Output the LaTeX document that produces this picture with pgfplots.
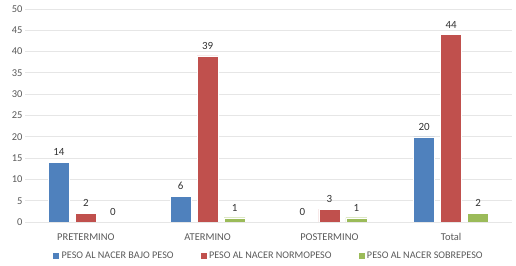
\documentclass[border=0pt]{standalone}
\usepackage{pgfplots}
\pgfplotsset{compat=1.18}
\usepackage{fontspec}
\setmainfont{Carlito}
\definecolor{cblue}{HTML}{4F81BD}
\definecolor{cred}{HTML}{C0504D}
\definecolor{cgreen}{HTML}{9BBB59}
\definecolor{txt}{HTML}{595959}
\definecolor{gridc}{HTML}{E6E6E6}
\begin{document}
\begin{tikzpicture}
\path[use as bounding box] (0,0) rectangle (516bp,266bp);
\begin{axis}[
  at={(25bp,44bp)}, anchor=south west,
  scale only axis, width=487bp, height=213bp,
  ybar=6bp, bar width=21bp,
  xmin=-0.5, xmax=3.5, ymin=0, ymax=50,
  ytick={0,5,...,50},
  xtick={0,1,2,3},
  xticklabels={PRETERMINO,ATERMINO,POSTERMINO,Total},
  axis line style={draw=none},
  major tick length=0pt,
  ymajorgrids, major grid style={draw=gridc, line width=0.8pt},
  ticklabel style={font=\fontsize{10.5}{12}\selectfont, text=txt},
  /pgf/number format/assume math mode=true,
  yticklabel style={xshift=1bp},
  xticklabel style={yshift=-8bp},
  nodes near coords,
  every node near coord/.append style={font=\fontsize{11}{12}\selectfont, text=black!80, yshift=3bp},
  legend columns=3,
  legend style={at={(0.5,-0.16)}, anchor=center, draw=none, fill=none,
    font=\fontsize{10.2}{12}\selectfont, text=txt,
    /tikz/every even column/.append style={column sep=24bp}},
  legend image code/.code={\fill[#1] (0bp,-3.5bp) rectangle (7bp,3.5bp);},
]
\addplot[fill=cblue, draw=white, line width=0.4pt] coordinates {(0,14) (1,6) (2,0) (3,20)};
\addplot[fill=cred, draw=white, line width=0.4pt] coordinates {(0,2) (1,39) (2,3) (3,44)};
\addplot[fill=cgreen, draw=white, line width=0.4pt] coordinates {(0,0) (1,1) (2,1) (3,2)};
\legend{PESO AL NACER BAJO PESO, PESO AL NACER NORMOPESO, PESO AL NACER SOBREPESO}
\end{axis}
\end{tikzpicture}
\end{document}
